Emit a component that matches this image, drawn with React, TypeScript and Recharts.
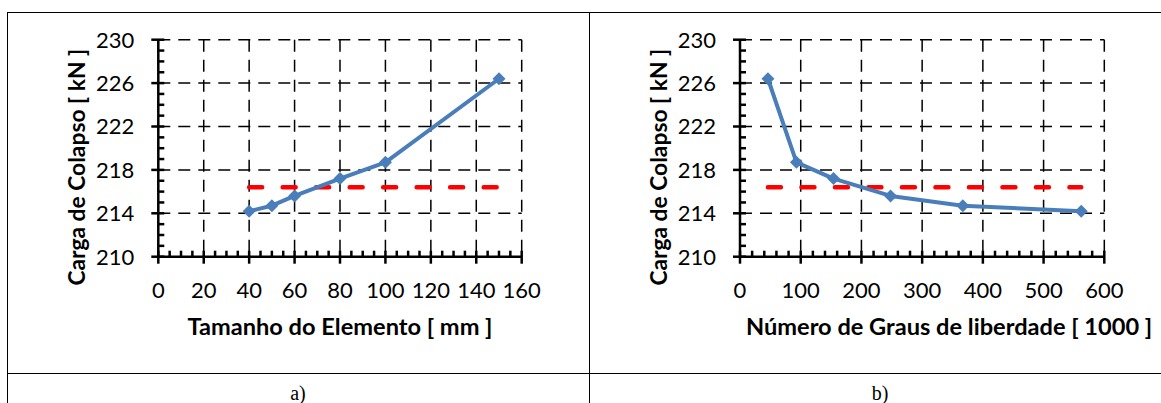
import { LineChart, Line, XAxis, YAxis, CartesianGrid } from 'recharts';

// a) element size (mm) vs collapse load (kN)
const sizeMm = [40, 50, 60, 80, 100, 150];
const loadBySize = [214.2, 214.7, 215.6, 217.2, 218.7, 226.4];
// b) degrees of freedom (x1000) vs collapse load (kN)
const dofThousands = [46, 93, 154, 248, 367, 562];
const loadByDof = [226.4, 218.7, 217.2, 215.6, 214.7, 214.2];
// reference load (red dashed)
const referenceLoad = 216.4;
const refSizeRange = [40, 150];
const refDofRange = [46, 562];

const loadTicks = [210, 214, 218, 222, 226, 230];
const sizeTicks = [0, 20, 40, 60, 80, 100, 120, 140, 160];
const dofTicks = [0, 100, 200, 300, 400, 500, 600];

// minor tick positions (labels only drawn on the major ones)
const range = (a: number, b: number, step: number) => {
  const out: number[] = [];
  for (let v = a; v <= b + 1e-9; v += step) out.push(v);
  return out;
};
const loadMinor = range(210, 230, 1);
const sizeMinor = range(0, 160, 5);
const dofMinor = range(0, 600, 20);

const sizeData = sizeMm.map((x, i) => ({ x, y: loadBySize[i] }));
const dofData = dofThousands.map((x, i) => ({ x, y: loadByDof[i] }));
const sizeRef = refSizeRange.map(x => ({ x, y: referenceLoad }));
const dofRef = refDofRange.map(x => ({ x, y: referenceLoad }));

const BLUE = '#4a7ebb';
const FONT = 'Lato, "Open Sans", sans-serif';
const TICK_FS = 22;
const MARGIN = 10; // tickMargin; tickSize is 0 so axis = label anchor -/+ MARGIN

function Diamond(props: any) {
  const { cx, cy } = props;
  if (cx == null || cy == null) return <g />;
  const r = 6.5;
  return <polygon points={`${cx},${cy - r} ${cx + r},${cy} ${cx},${cy + r} ${cx - r},${cy}`} fill={BLUE} />;
}

function xTick(majors: number[]) {
  return (props: any) => {
    const { x, y, payload } = props;
    const axisY = y - MARGIN;
    const major = majors.includes(payload.value);
    return (
      <g>
        <line x1={x} x2={x} y1={axisY - 6} y2={major ? axisY + 7 : axisY} stroke="#000" strokeWidth={2.5} />
        {major && (
          <text x={x} y={axisY + 41} textAnchor="middle" fill="#000" style={{ fontFamily: FONT, fontSize: TICK_FS }}>
            {payload.value}
          </text>
        )}
      </g>
    );
  };
}

function yTick(props: any) {
  const { x, y, payload } = props;
  const axisX = x + MARGIN;
  const major = loadTicks.includes(payload.value);
  return (
    <g>
      <line x1={major ? axisX - 7 : axisX} x2={axisX + 6} y1={y} y2={y} stroke="#000" strokeWidth={2.5} />
      {major && (
        <text x={axisX - 24} y={y + 7.9} textAnchor="end" fill="#000" style={{ fontFamily: FONT, fontSize: TICK_FS }}>
          {payload.value}
        </text>
      )}
    </g>
  );
}

function yTitle(text: string) {
  return (props: any) => {
    const { x, y, width, height } = props.viewBox;
    const cx = x + width - 82;
    const cy = y + height / 2 + 19;
    return (
      <text x={cx} y={cy} transform={`rotate(-90, ${cx}, ${cy})`} textAnchor="middle" dominantBaseline="central"
        style={{ fontFamily: FONT, fontWeight: 700, fontSize: 22.8, fill: '#000' }}>{text}</text>
    );
  };
}

function xTitle(text: string, dx: number) {
  return (props: any) => {
    const { x, y, width } = props.viewBox;
    return (
      <text x={x + width / 2 + dx} y={y + 78.5} textAnchor="middle"
        style={{ fontFamily: FONT, fontWeight: 700, fontSize: 23.6, fill: '#000' }}>{text}</text>
    );
  };
}

function Panel({ data, refData, xTicks, xMinor, xDomain, yAxisWidth, rightMargin, width, xLabel, xLabelDx }: {
  data: { x: number; y: number }[];
  refData: { x: number; y: number }[];
  xTicks: number[];
  xMinor: number[];
  xDomain: [number, number];
  yAxisWidth: number;
  rightMargin: number;
  width: number;
  xLabel: string;
  xLabelDx: number;
}) {
  return (
    <LineChart width={width} height={361} margin={{ top: 27.7, right: rightMargin, bottom: 0, left: 0 }}>
      <CartesianGrid stroke="#000" strokeWidth={1.5} strokeDasharray="12 8"
        horizontalValues={loadTicks} verticalValues={xTicks} />
      <XAxis dataKey="x" type="number" domain={xDomain} ticks={xMinor} interval={0}
        height={116.3} tick={xTick(xTicks)} tickSize={0} tickMargin={MARGIN} tickLine={false}
        stroke="#000" strokeWidth={2.5}
        label={{ content: xTitle(xLabel, xLabelDx) }} />
      <YAxis type="number" domain={[210, 230]} ticks={loadMinor} interval={0} width={yAxisWidth}
        tick={yTick} tickSize={0} tickMargin={MARGIN} tickLine={false}
        stroke="#000" strokeWidth={2.5}
        label={{ content: yTitle('Carga de Colapso [ kN ]') }} />
      <Line data={refData} dataKey="y" stroke="#ff0000" strokeWidth={4.5} strokeDasharray="13 20.5"
        strokeLinecap="round" dot={false} activeDot={false} isAnimationActive={false} />
      <Line data={data} dataKey="y" type="linear" stroke={BLUE} strokeWidth={4} strokeLinejoin="round"
        dot={<Diamond />} activeDot={false} isAnimationActive={false} />
    </LineChart>
  );
}

export default function App() {
  const line = '#000';
  return (
    <div style={{ position: 'absolute', left: 0, top: 0, width: 1161, height: 403, overflow: 'hidden', background: '#fff' }}>
      {/* table borders */}
      <div style={{ position: 'absolute', left: 7, top: 11.5, width: 1160, height: 1.3, background: line }} />
      <div style={{ position: 'absolute', left: 6.5, top: 11.5, width: 1.5, height: 400, background: line }} />
      <div style={{ position: 'absolute', left: 588.5, top: 11.5, width: 1.3, height: 400, background: line }} />
      <div style={{ position: 'absolute', left: 7, top: 372.5, width: 1160, height: 1.3, background: line }} />

      <div style={{ position: 'absolute', left: 7, top: 12 }}>
        <Panel data={sizeData} refData={sizeRef} xTicks={sizeTicks} xMinor={sizeMinor} xDomain={[0, 160]}
          yAxisWidth={151.3} rightMargin={67.3} width={582} xLabel="Tamanho do Elemento [ mm ]" xLabelDx={0} />
      </div>
      <div style={{ position: 'absolute', left: 589, top: 12 }}>
        <Panel data={dofData} refData={dofRef} xTicks={dofTicks} xMinor={dofMinor} xDomain={[0, 600]}
          yAxisWidth={151} rightMargin={56.7} width={572} xLabel="Número de Graus de liberdade [ 1000 ]" xLabelDx={27} />
      </div>

      <div style={{ position: 'absolute', left: 7, width: 582, top: 382, textAlign: 'center', fontFamily: '"Liberation Serif", serif', fontSize: 20 }}>a)</div>
      <div style={{ position: 'absolute', left: 589, width: 582, top: 382, textAlign: 'center', fontFamily: '"Liberation Serif", serif', fontSize: 20 }}>b)</div>
    </div>
  );
}
